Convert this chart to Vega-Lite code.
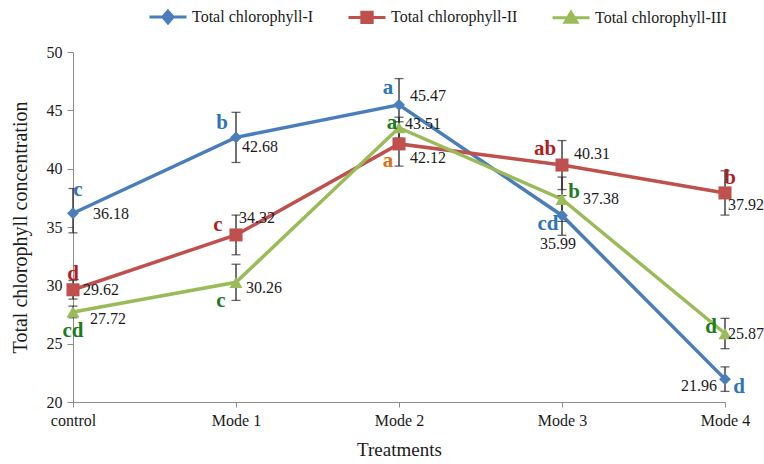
{
  "$schema": "https://vega.github.io/schema/vega-lite/v6.json",
  "width": 652,
  "height": 350,
  "autosize": {"type": "none"},
  "padding": {"left": 73, "top": 52, "right": 39, "bottom": 62},
  "background": "white",
  "config": {
    "view": {"stroke": null},
    "font": "Liberation Serif",
    "axis": {"labelFont": "Liberation Serif", "titleFont": "Liberation Serif", "labelColor": "#1a1a1a", "titleColor": "#1a1a1a", "titleFontWeight": "normal", "domainColor": "#8c8c8c", "tickColor": "#8c8c8c", "grid": false}
  },
  "datasets": {
    "d": [
      {"t": "control", "s": "Total chlorophyll-I", "v": 36.18, "lo": 34.5, "hi": 38.3, "L": "c", "k": "I0"},
      {"t": "Mode 1", "s": "Total chlorophyll-I", "v": 42.68, "lo": 40.53, "hi": 44.83, "L": "b", "k": "I1"},
      {"t": "Mode 2", "s": "Total chlorophyll-I", "v": 45.47, "lo": 43.22, "hi": 47.72, "L": "a", "k": "I2"},
      {"t": "Mode 3", "s": "Total chlorophyll-I", "v": 35.99, "lo": 34.29, "hi": 37.69, "L": "cd", "k": "I3"},
      {"t": "Mode 4", "s": "Total chlorophyll-I", "v": 21.96, "lo": 20.91, "hi": 23.01, "L": "d", "k": "I4"},
      {"t": "control", "s": "Total chlorophyll-II", "v": 29.62, "lo": 28.82, "hi": 30.42, "L": "d", "k": "II0"},
      {"t": "Mode 1", "s": "Total chlorophyll-II", "v": 34.32, "lo": 32.62, "hi": 36.02, "L": "c", "k": "II1"},
      {"t": "Mode 2", "s": "Total chlorophyll-II", "v": 42.12, "lo": 40.22, "hi": 44.02, "L": "a", "k": "II2"},
      {"t": "Mode 3", "s": "Total chlorophyll-II", "v": 40.31, "lo": 38.21, "hi": 42.41, "L": "ab", "k": "II3"},
      {"t": "Mode 4", "s": "Total chlorophyll-II", "v": 37.92, "lo": 36.02, "hi": 39.82, "L": "b", "k": "II4"},
      {"t": "control", "s": "Total chlorophyll-III", "v": 27.72, "lo": 27.22, "hi": 28.22, "L": "cd", "k": "III0"},
      {"t": "Mode 1", "s": "Total chlorophyll-III", "v": 30.26, "lo": 28.71, "hi": 31.81, "L": "c", "k": "III1"},
      {"t": "Mode 2", "s": "Total chlorophyll-III", "v": 43.51, "lo": 42.61, "hi": 44.41, "L": "a", "k": "III2"},
      {"t": "Mode 3", "s": "Total chlorophyll-III", "v": 37.38, "lo": 35.48, "hi": 39.28, "L": "b", "k": "III3"},
      {"t": "Mode 4", "s": "Total chlorophyll-III", "v": 25.87, "lo": 24.57, "hi": 27.17, "L": "d", "k": "III4"}
    ]
  },
  "data": {"name": "d"},
  "encoding": {
    "x": {"field": "t", "type": "ordinal", "scale": {"type": "point", "padding": 0, "domain": ["control", "Mode 1", "Mode 2", "Mode 3", "Mode 4"]},
      "axis": {"title": "Treatments", "labelAngle": 0, "labelFontSize": 16, "titleFontSize": 19, "tickSize": 5, "labelPadding": 5, "titlePadding": 12}},
    "y": {"field": "v", "type": "quantitative", "scale": {"domain": [20, 50], "nice": false, "zero": false},
      "axis": {"title": "Total chlorophyll concentration", "values": [20, 25, 30, 35, 40, 45, 50], "labelFontSize": 16, "titleFontSize": 20, "tickSize": 6, "labelPadding": 5, "titlePadding": 16}}
  },
  "layer": [
    {
      "mark": {"type": "line", "strokeWidth": 3.5},
      "encoding": {
        "color": {"field": "s", "type": "nominal",
          "scale": {"domain": ["Total chlorophyll-I", "Total chlorophyll-II", "Total chlorophyll-III"], "range": ["#4A7EBB", "#C0504D", "#9BBB59"]},
          "legend": {"title": null, "orient": "none", "direction": "horizontal", "legendX": 75, "legendY": -55, "labelFontSize": 16, "labelFont": "Liberation Serif", "labelColor": "#1a1a1a", "labelOffset": 4, "columnPadding": 28, "symbolSize": 1369,
            "encode": {"symbols": {"update": {
              "shape": {"signal": "datum.value === 'Total chlorophyll-I' ? 'M-1,0L1,0M0,-0.32L0.28,0L0,0.32L-0.28,0Z' : datum.value === 'Total chlorophyll-II' ? 'M-1,0L1,0M-0.28,-0.28L0.28,-0.28L0.28,0.28L-0.28,0.28Z' : 'M-1,0L1,0M0,-0.3L0.32,0.24L-0.32,0.24Z'"},
              "fill": {"scale": "color", "field": "value"},
              "stroke": {"scale": "color", "field": "value"},
              "strokeWidth": {"value": 3},
              "size": {"value": 1369},
              "opacity": {"value": 1}
            }}}}
        }
      }
    },
    {"mark": {"type": "rule", "color": "#262626", "strokeWidth": 1.3}, "encoding": {"y": {"field": "lo", "type": "quantitative"}, "y2": {"field": "hi"}}},
    {"mark": {"type": "tick", "color": "#262626", "thickness": 1.3, "size": 9}, "encoding": {"y": {"field": "lo", "type": "quantitative"}}},
    {"mark": {"type": "tick", "color": "#262626", "thickness": 1.3, "size": 9}, "encoding": {"y": {"field": "hi", "type": "quantitative"}}},
    {"transform": [{"filter": "datum.s === 'Total chlorophyll-I'"}], "mark": {"type": "point", "shape": "diamond", "filled": true, "opacity": 1, "size": 140, "color": "#4A7EBB"}, "encoding": {}},
    {"transform": [{"filter": "datum.s === 'Total chlorophyll-II'"}], "mark": {"type": "point", "shape": "square", "filled": true, "opacity": 1, "size": 170, "color": "#C0504D"}, "encoding": {}},
    {"transform": [{"filter": "datum.s === 'Total chlorophyll-III'"}], "mark": {"type": "point", "shape": "triangle-up", "filled": true, "opacity": 1, "size": 170, "color": "#9BBB59"}, "encoding": {}},
    {"transform": [{"filter": "datum.k === 'I0'"}], "mark": {"type": "text", "font": "Liberation Serif", "fontWeight": "bold", "fontSize": 21, "color": "#2E75B6", "dx": 5, "dy": -23}, "encoding": {"text": {"field": "L"}}},
    {"transform": [{"filter": "datum.k === 'I1'"}], "mark": {"type": "text", "font": "Liberation Serif", "fontWeight": "bold", "fontSize": 21, "color": "#2E75B6", "dx": -14, "dy": -14}, "encoding": {"text": {"field": "L"}}},
    {"transform": [{"filter": "datum.k === 'I2'"}], "mark": {"type": "text", "font": "Liberation Serif", "fontWeight": "bold", "fontSize": 21, "color": "#2E75B6", "dx": -11, "dy": -17}, "encoding": {"text": {"field": "L"}}},
    {"transform": [{"filter": "datum.k === 'I3'"}], "mark": {"type": "text", "font": "Liberation Serif", "fontWeight": "bold", "fontSize": 21, "color": "#2E75B6", "dx": -14, "dy": 9}, "encoding": {"text": {"field": "L"}}},
    {"transform": [{"filter": "datum.k === 'I4'"}], "mark": {"type": "text", "font": "Liberation Serif", "fontWeight": "bold", "fontSize": 21, "color": "#2E75B6", "dx": 14, "dy": 8}, "encoding": {"text": {"field": "L"}}},
    {"transform": [{"filter": "datum.k === 'II0'"}], "mark": {"type": "text", "font": "Liberation Serif", "fontWeight": "bold", "fontSize": 21, "color": "#B01E22", "dx": 0, "dy": -16}, "encoding": {"text": {"field": "L"}}},
    {"transform": [{"filter": "datum.k === 'II1'"}], "mark": {"type": "text", "font": "Liberation Serif", "fontWeight": "bold", "fontSize": 21, "color": "#B01E22", "dx": -18, "dy": -10}, "encoding": {"text": {"field": "L"}}},
    {"transform": [{"filter": "datum.k === 'II2'"}], "mark": {"type": "text", "font": "Liberation Serif", "fontWeight": "bold", "fontSize": 21, "color": "#E0700F", "dx": -11, "dy": 17}, "encoding": {"text": {"field": "L"}}},
    {"transform": [{"filter": "datum.k === 'II3'"}], "mark": {"type": "text", "font": "Liberation Serif", "fontWeight": "bold", "fontSize": 21, "color": "#B01E22", "dx": -17, "dy": -16}, "encoding": {"text": {"field": "L"}}},
    {"transform": [{"filter": "datum.k === 'II4'"}], "mark": {"type": "text", "font": "Liberation Serif", "fontWeight": "bold", "fontSize": 21, "color": "#B01E22", "dx": 5, "dy": -15}, "encoding": {"text": {"field": "L"}}},
    {"transform": [{"filter": "datum.k === 'III0'"}], "mark": {"type": "text", "font": "Liberation Serif", "fontWeight": "bold", "fontSize": 21, "color": "#1E7B1E", "dx": 0, "dy": 19}, "encoding": {"text": {"field": "L"}}},
    {"transform": [{"filter": "datum.k === 'III1'"}], "mark": {"type": "text", "font": "Liberation Serif", "fontWeight": "bold", "fontSize": 21, "color": "#1E7B1E", "dx": -15, "dy": 19}, "encoding": {"text": {"field": "L"}}},
    {"transform": [{"filter": "datum.k === 'III2'"}], "mark": {"type": "text", "font": "Liberation Serif", "fontWeight": "bold", "fontSize": 21, "color": "#1E7B1E", "dx": -7, "dy": -5}, "encoding": {"text": {"field": "L"}}},
    {"transform": [{"filter": "datum.k === 'III3'"}], "mark": {"type": "text", "font": "Liberation Serif", "fontWeight": "bold", "fontSize": 21, "color": "#1E7B1E", "dx": 12, "dy": -7}, "encoding": {"text": {"field": "L"}}},
    {"transform": [{"filter": "datum.k === 'III4'"}], "mark": {"type": "text", "font": "Liberation Serif", "fontWeight": "bold", "fontSize": 21, "color": "#1E7B1E", "dx": -14, "dy": -7}, "encoding": {"text": {"field": "L"}}},
    {"transform": [{"filter": "datum.k === 'I0'"}], "mark": {"type": "text", "font": "Liberation Serif", "fontSize": 16, "color": "#1a1a1a", "align": "left", "dx": 20, "dy": 1}, "encoding": {"text": {"field": "v", "format": ".2f"}}},
    {"transform": [{"filter": "datum.k === 'I1'"}], "mark": {"type": "text", "font": "Liberation Serif", "fontSize": 16, "color": "#1a1a1a", "align": "left", "dx": 6, "dy": 10}, "encoding": {"text": {"field": "v", "format": ".2f"}}},
    {"transform": [{"filter": "datum.k === 'I2'"}], "mark": {"type": "text", "font": "Liberation Serif", "fontSize": 16, "color": "#1a1a1a", "align": "left", "dx": 11, "dy": -9}, "encoding": {"text": {"field": "v", "format": ".2f"}}},
    {"transform": [{"filter": "datum.k === 'I3'"}], "mark": {"type": "text", "font": "Liberation Serif", "fontSize": 16, "color": "#1a1a1a", "align": "center", "dx": -4, "dy": 29}, "encoding": {"text": {"field": "v", "format": ".2f"}}},
    {"transform": [{"filter": "datum.k === 'I4'"}], "mark": {"type": "text", "font": "Liberation Serif", "fontSize": 16, "color": "#1a1a1a", "align": "right", "dx": -8, "dy": 7}, "encoding": {"text": {"field": "v", "format": ".2f"}}},
    {"transform": [{"filter": "datum.k === 'II0'"}], "mark": {"type": "text", "font": "Liberation Serif", "fontSize": 16, "color": "#1a1a1a", "align": "left", "dx": 10, "dy": 0}, "encoding": {"text": {"field": "v", "format": ".2f"}}},
    {"transform": [{"filter": "datum.k === 'II1'"}], "mark": {"type": "text", "font": "Liberation Serif", "fontSize": 16, "color": "#1a1a1a", "align": "left", "dx": 3, "dy": -17}, "encoding": {"text": {"field": "v", "format": ".2f"}}},
    {"transform": [{"filter": "datum.k === 'II2'"}], "mark": {"type": "text", "font": "Liberation Serif", "fontSize": 16, "color": "#1a1a1a", "align": "left", "dx": 11, "dy": 14}, "encoding": {"text": {"field": "v", "format": ".2f"}}},
    {"transform": [{"filter": "datum.k === 'II3'"}], "mark": {"type": "text", "font": "Liberation Serif", "fontSize": 16, "color": "#1a1a1a", "align": "left", "dx": 12, "dy": -11}, "encoding": {"text": {"field": "v", "format": ".2f"}}},
    {"transform": [{"filter": "datum.k === 'II4'"}], "mark": {"type": "text", "font": "Liberation Serif", "fontSize": 16, "color": "#1a1a1a", "align": "left", "dx": 3, "dy": 12}, "encoding": {"text": {"field": "v", "format": ".2f"}}},
    {"transform": [{"filter": "datum.k === 'III0'"}], "mark": {"type": "text", "font": "Liberation Serif", "fontSize": 16, "color": "#1a1a1a", "align": "left", "dx": 17, "dy": 7}, "encoding": {"text": {"field": "v", "format": ".2f"}}},
    {"transform": [{"filter": "datum.k === 'III1'"}], "mark": {"type": "text", "font": "Liberation Serif", "fontSize": 16, "color": "#1a1a1a", "align": "left", "dx": 10, "dy": 6}, "encoding": {"text": {"field": "v", "format": ".2f"}}},
    {"transform": [{"filter": "datum.k === 'III2'"}], "mark": {"type": "text", "font": "Liberation Serif", "fontSize": 16, "color": "#1a1a1a", "align": "left", "dx": 6, "dy": -4}, "encoding": {"text": {"field": "v", "format": ".2f"}}},
    {"transform": [{"filter": "datum.k === 'III3'"}], "mark": {"type": "text", "font": "Liberation Serif", "fontSize": 16, "color": "#1a1a1a", "align": "left", "dx": 21, "dy": 0}, "encoding": {"text": {"field": "v", "format": ".2f"}}},
    {"transform": [{"filter": "datum.k === 'III4'"}], "mark": {"type": "text", "font": "Liberation Serif", "fontSize": 16, "color": "#1a1a1a", "align": "left", "dx": 3, "dy": 0}, "encoding": {"text": {"field": "v", "format": ".2f"}}}
  ]
}
